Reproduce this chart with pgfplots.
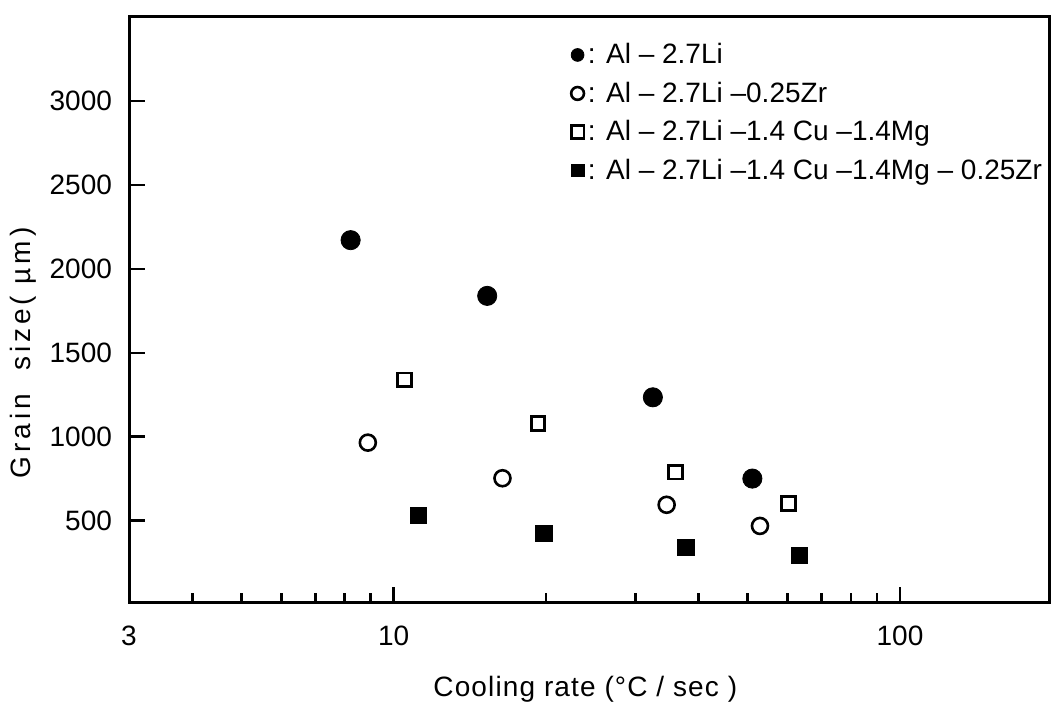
\documentclass[border=0pt]{standalone}
\usepackage{fontspec}
\setmainfont{Liberation Sans}
\newfontfamily\lsfont[LetterSpace=4]{Liberation Sans}
\newfontfamily\lswide[LetterSpace=14]{Liberation Sans}
\usepackage{pgfplots}
\pgfplotsset{compat=1.18}
\newcommand\ff{\fontsize{14}{17}\selectfont}
\begin{document}
\begin{tikzpicture}
\path[use as bounding box] (-64.5pt,-53.5pt) rectangle (461.5pt,301.5pt);
\begin{axis}[
  at={(0pt,0pt)}, anchor=south west,
  scale only axis, width=460pt, height=293pt,
  xmode=log, log basis x=10,
  xmin=3, xmax=197, ymin=10, ymax=3500,
  axis line style={line width=1.5pt},
  xtick={3,10,100}, xticklabels={3,10,100},
  minor xtick={4,5,6,7,8,9,20,30,40,50,60,70,80,90},
  ytick={500,1000,1500,2000,2500,3000},
  scaled y ticks=false,
  yticklabel style={/pgf/number format/fixed, /pgf/number format/1000 sep={}},
  tick pos=left, tick align=inside,
  major tick length=8pt, minor tick length=5pt,
  every tick/.style={line width=1.3pt, black},
  /pgf/number format/assume math mode=true,
  tick label style={font=\ff},
  xticklabel style={yshift=-8pt},
  yticklabel style={xshift=-5pt},
  xlabel={Cooling rate (°C / sec )},
  ylabel={Grain\ \ size( µm)},
  xlabel style={font=\ff\lsfont, at={(axis description cs:0.496,-0.148)}, anchor=center},
  ylabel style={font=\ff\lswide, at={(axis description cs:-0.115,0.427)}, anchor=center},
  legend style={font=\ff, draw=none, fill=none,
    at={(axis description cs:0.478,0.966)}, anchor=north west,
    row sep=3.6pt, inner sep=1pt},
  legend cell align=left,
  legend image code/.code={\draw[#1, mark size=3.2pt] plot coordinates {(0.15cm,0cm)};},
]
\addplot[only marks, mark=*, mark size=4.8pt, black]
  coordinates {(8.22,2171) (15.3,1839) (32.5,1235) (51.1,751)};
\addlegendentry{: Al -- 2.7Li}
\addplot[only marks, mark=o, mark size=4.0pt, line width=1.3pt, black]
  coordinates {(8.89,965) (16.4,753) (34.6,595) (52.9,469)};
\addlegendentry{: Al -- 2.7Li --0.25Zr}
\addplot[only marks, mark=square, mark size=3.4pt, line width=1.4pt, black]
  coordinates {(10.5,1339) (19.27,1078) (36.0,789) (60.2,603)};
\addlegendentry{: Al -- 2.7Li --1.4 Cu --1.4Mg}
\addplot[only marks, mark=square*, mark size=4.1pt, black]
  coordinates {(11.2,530) (19.8,425) (37.8,342) (63.3,292)};
\addlegendentry{: Al -- 2.7Li --1.4 Cu --1.4Mg -- 0.25Zr}
\end{axis}
\end{tikzpicture}
\end{document}
